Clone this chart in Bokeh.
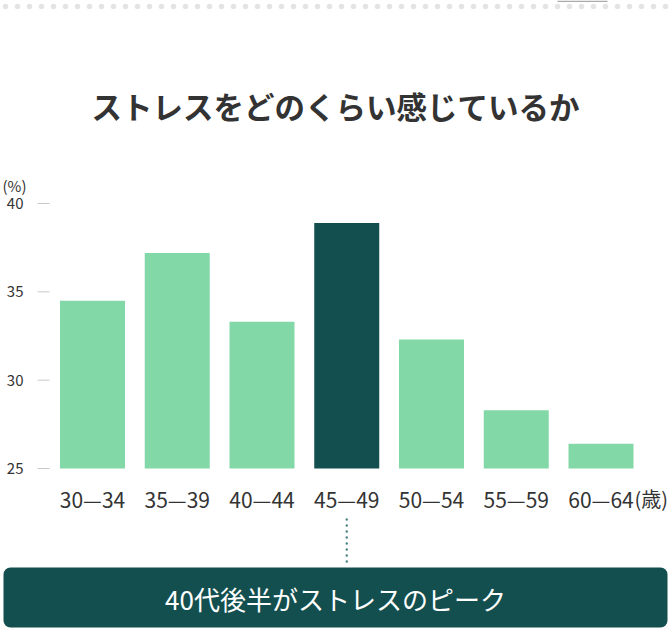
from bokeh.plotting import figure
from bokeh.models import Range1d, ColumnDataSource
from bokeh.core.properties import value
from bokeh.embed import file_html
from bokeh.resources import INLINE

# ---- data -------------------------------------------------------------
title_text = "ストレスをどのくらい感じているか"
categories = ["30—34", "35—39", "40—44", "45—49", "50—54", "55—59", "60—64"]
stress_pct = [34.5, 37.2, 33.3, 38.9, 32.3, 28.3, 26.4]
highlight = "45—49"
y_ticks = [25, 30, 35, 40]
y_unit = "(%)"
x_unit = "(歳)"
callout = "40代後半がストレスのピーク"

# ---- layout helpers (pixel -> data) -------------------------------------
W, H = 670, 628
X0_PX, STEP_PX = 92.0, 84.75          # first category centre / pitch in px
Y_BASE_PX, PX_PER_UNIT = 468.0, 265.0 / 15.0
BASE = y_ticks[0]


def xd(px):
    return (px - X0_PX) / STEP_PX


def yd(py):
    return BASE + (Y_BASE_PX - py) / PX_PER_UNIT


FONT = value("Noto Sans CJK JP")
LIGHT = "#83d8a7"
DARK = "#144f4f"
TEXT = "#333333"

p = figure(width=W, height=H, output_backend="svg", toolbar_location=None,
           x_range=Range1d(xd(0), xd(W)), y_range=Range1d(yd(H), yd(0)),
           x_axis_type=None, y_axis_type=None, min_border=0)
p.outline_line_color = None
p.background_fill_color = "white"
p.border_fill_color = "white"

# top dotted rule and small tab
p.segment(x0=[xd(5)], x1=[xd(W)], y0=[yd(6)], y1=[yd(6)],
          line_color="#e4e4e4", line_width=5.5, line_cap="round", line_dash="0 12")
p.quad(left=[xd(557)], right=[xd(607)], top=[yd(0)], bottom=[yd(1.5)],
       fill_color="#aaaaaa", line_color=None)

# title
p.text(x=[xd(335)], y=[yd(105)], text=[title_text], text_font=FONT,
       text_font_size="30.5px", text_font_style="bold", text_color=TEXT,
       text_align="center", text_baseline="middle")

# bars
idx = list(range(len(categories)))
colors = [DARK if c == highlight else LIGHT for c in categories]
src = ColumnDataSource(dict(x=idx, top=stress_pct, color=colors, label=categories))
p.vbar(x="x", top="top", bottom=BASE, width=0.767, fill_color="color",
       line_color=None, source=src)

# y axis ticks and labels
p.segment(x0=[xd(37)] * len(y_ticks), x1=[xd(49)] * len(y_ticks),
          y0=y_ticks, y1=y_ticks, line_color="#c8c8c8", line_width=1)
p.text(x=[xd(23)] * len(y_ticks), y=y_ticks, text=[str(t) for t in y_ticks],
       text_font=FONT, text_font_size="15px", text_color=TEXT,
       text_align="right", text_baseline="middle")
p.text(x=[xd(2)], y=[yd(185)], text=[y_unit], text_font=FONT,
       text_font_size="15px", text_color=TEXT, text_align="left",
       text_baseline="middle")

# category labels
p.text(x="x", y=yd(498), text="label", source=src, text_font=FONT,
       text_font_size="21px", text_color=TEXT, text_align="center",
       text_baseline="middle")
p.text(x=[xd(634)], y=[yd(498)], text=[x_unit], text_font=FONT,
       text_font_size="20px", text_color=TEXT, text_align="left",
       text_baseline="middle")

# connector + callout box
hi = categories.index(highlight)
p.segment(x0=[hi], x1=[hi], y0=[yd(519)], y1=[yd(567)], line_color="#4f8585",
          line_width=2.5, line_cap="round", line_dash="0 6")
p.quad(left=[xd(3)], right=[xd(667)], top=[yd(567)], bottom=[yd(627)],
       fill_color=DARK, line_color=None, border_radius=7)
p.text(x=[xd(335)], y=[yd(598)], text=[callout], text_font=FONT,
       text_font_size="26px", text_color="white", text_align="center",
       text_baseline="middle")

open("out.html", "w").write(file_html(p, INLINE))
